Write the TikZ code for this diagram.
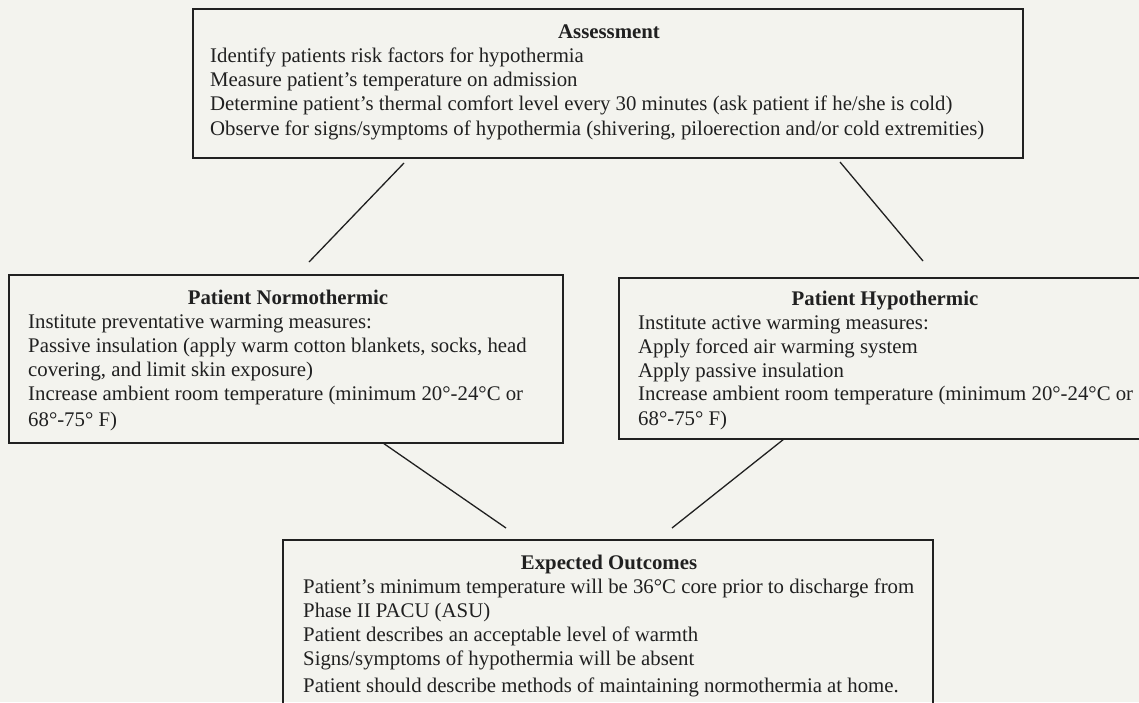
\documentclass[tikz,border=0pt]{standalone}
\usepackage{fontspec}
\setmainfont{Liberation Serif}
\definecolor{paper}{RGB}{243,243,238}
\definecolor{ink}{RGB}{32,32,32}
\begin{document}
\begin{tikzpicture}[x=1pt,y=-1pt,
  frame/.style={draw=ink, line width=1.6pt, inner sep=0pt},
  ttl/.style={font=\fontsize{20.8}{24}\selectfont\bfseries, text=ink, inner sep=0pt, anchor=base},
  txt/.style={font=\fontsize{20.8}{24}\selectfont, text=ink, inner sep=0pt, anchor=base west},
  link/.style={draw=ink, line width=1.3pt}]
\fill[paper] (0,0) rectangle (1139,702);
\useasboundingbox (0,0) rectangle (1139,702);
\clip (0,0) rectangle (1139,702);

% frames
\node[frame, minimum width=830pt, minimum height=149pt] (assess) at (608,83.5) {};
\node[frame, minimum width=554pt, minimum height=168pt] (normo) at (286,359) {};
\node[frame, minimum width=532pt, minimum height=161pt] (hypo) at (885,358.5) {};
\node[frame, minimum width=650pt, minimum height=165pt] (outc) at (608,622.5) {};

% Assessment
\node[ttl] (assessT) at (609,38) {Assessment};
\node[txt] (a1) at (210,62) {Identify patients risk factors for hypothermia};
\node[txt] (a2) at (210,86) {Measure patient’s temperature on admission};
\node[txt] (a3) at (210,110) {Determine patient’s thermal comfort level every 30 minutes (ask patient if he/she is cold)};
\node[txt] (a4) at (210,135) {Observe for signs/symptoms of hypothermia (shivering, piloerection and/or cold extremities)};

% Normothermic
\node[ttl] (normoT) at (288,304) {Patient Normothermic};
\node[txt] (n1) at (28,328) {Institute preventative warming measures:};
\node[txt] (n2) at (28,352) {Passive insulation (apply warm cotton blankets, socks, head};
\node[txt] (n3) at (28,376) {covering, and limit skin exposure)};
\node[txt] (n4) at (28,400) {Increase ambient room temperature (minimum 20°-24°C or};
\node[txt] (n5) at (28,426) {68°-75° F)};

% Hypothermic
\node[ttl] (hypoT) at (885,305) {Patient Hypothermic};
\node[txt] (h1) at (638,329) {Institute active warming measures:};
\node[txt] (h2) at (638,353) {Apply forced air warming system};
\node[txt] (h3) at (638,377) {Apply passive insulation};
\node[txt] (h4) at (638,400) {Increase ambient room temperature (minimum 20°-24°C or};
\node[txt] (h5) at (638,425) {68°-75° F)};

% Outcomes
\node[ttl] (outcT) at (609,569) {Expected Outcomes};
\node[txt] (o1) at (303,593) {Patient’s minimum temperature will be 36°C core prior to discharge from};
\node[txt] (o2) at (303,617) {Phase II PACU (ASU)};
\node[txt] (o3) at (303,641) {Patient describes an acceptable level of warmth};
\node[txt] (o4) at (303,665) {Signs/symptoms of hypothermia will be absent};
\node[txt] (o5) at (303,692) {Patient should describe methods of maintaining normothermia at home.};

% connector ends
\coordinate (la) at (404,163);
\coordinate (ln) at (309,262);
\coordinate (ra) at (840,162);
\coordinate (rh) at (923,261);
\coordinate (ln2) at (383,443);
\coordinate (lo) at (506,528);
\coordinate (rh2) at (784,439);
\coordinate (ro) at (672,528);

\draw[link] (la) -- (ln);
\draw[link] (ra) -- (rh);
\draw[link] (ln2) -- (lo);
\draw[link] (rh2) -- (ro);
\end{tikzpicture}
\end{document}
